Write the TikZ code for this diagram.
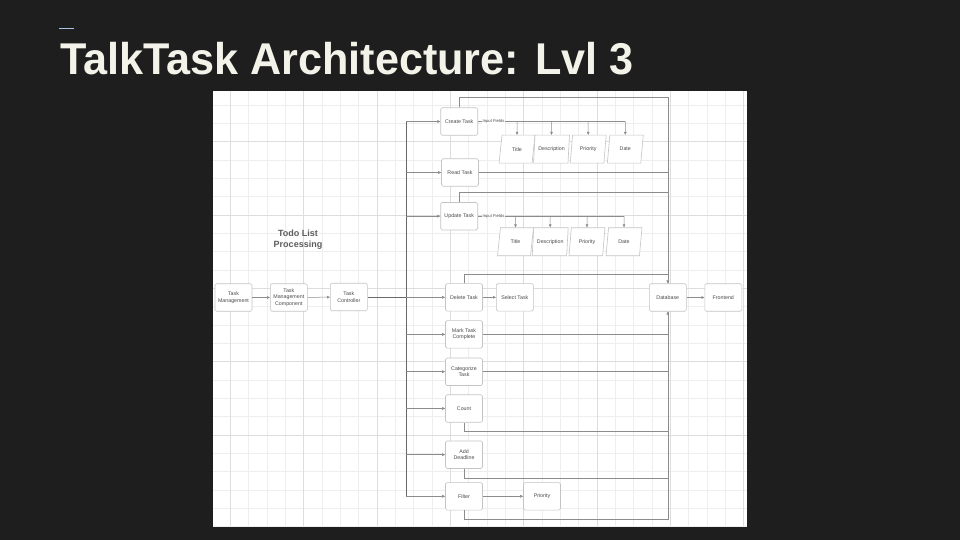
\documentclass[tikz,border=0pt]{standalone}
\usepackage{fontspec}
\setmainfont{Liberation Sans}
\usetikzlibrary{arrows.meta,shapes.geometric}
\definecolor{slidebg}{HTML}{1E1E1E}
\definecolor{titlecol}{HTML}{F3F3EA}
\definecolor{dashcol}{HTML}{A9C4E8}
\definecolor{boxline}{HTML}{C4C4C4}
\definecolor{boxtext}{HTML}{4A4A4A}
\definecolor{linecol}{HTML}{8C8C8C}
\definecolor{gridmin}{HTML}{EEEEEE}
\definecolor{gridmaj}{HTML}{DDDDDD}
\begin{document}
\begin{tikzpicture}[
                    x=1pt, y=-1pt,
                    box/.style={draw=boxline, fill=white, rounded corners=1.5pt, line width=0.6pt,
                                minimum width=37pt, minimum height=27.5pt, inner sep=0pt,
                                align=center, text=boxtext, font=\fontsize{5.3}{6.4}\selectfont},
                    param/.style={trapezium, trapezium left angle=76, trapezium right angle=104,
                                  trapezium stretches=true, draw=boxline, fill=white, line width=0.6pt,
                                  minimum width=36pt, minimum height=28pt, inner sep=0pt,
                                  text=boxtext, font=\fontsize{5.3}{6.4}\selectfont},
                    flow/.style={draw=linecol, line width=0.5pt, -{Triangle[length=3pt,width=2.6pt]}},
                    wire/.style={draw=linecol, line width=0.5pt},
                    bus/.style={draw=linecol!75!black, line width=0.8pt},
                    lbl/.style={fill=white, inner sep=0.3pt, text=boxtext, font=\fontsize{4.2}{5}\selectfont},
                    gridminor/.style={draw=gridmin, line width=0.6pt},
                    gridmajor/.style={draw=gridmaj, line width=0.6pt}
                ]
                \fill[slidebg] (0,0) rectangle (960,540);
                \useasboundingbox (0,0) rectangle (960,540);

                % title
                \draw[dashcol, line width=1pt] (59,29) -- (74,29);
                \node[anchor=base west, inner sep=0pt, text=titlecol, font=\fontsize{44.5}{50}\selectfont\bfseries]
                    (slidetitle) at (60,75) {\scalebox{0.97}[1]{TalkTask Architecture: Lvl 3}};

                % canvas with grid
                \begin{scope}
                    \clip (213,91) rectangle (747,526);
                    \fill[white] (213,91) rectangle (747,526);
                    \foreach \i in {0,...,29} \draw[gridminor] ({212+18.333*\i},91) -- ++(0,435);
                    \foreach \j in {0,...,24} \draw[gridminor] (213,{86.7+18.333*\j}) -- ++(534,0);
                    \foreach \i in {0,...,7} \draw[gridmajor] ({230.33+73.33*\i},91) -- ++(0,435);
                    \foreach \j in {0,...,5} \draw[gridmajor] (213,{68.4+73.33*\j}) -- ++(534,0);
                \end{scope}

                \node[align=center, text=boxtext!90, font=\fontsize{9}{10.5}\selectfont\bfseries]
                    (heading) at (298,239.5) {Todo List\\Processing};

                % main chain
                \node[box] (tm)  at (233.5,297.5) {Task\\Management};
                \node[box] (tmc) at (288.8,297.5) {Task\\Management\\Component};
                \node[box] (tc)  at (348.8,297) {Task\\Controller};

                % operations
                \node[box] (create)     at (459.2,121.5) {Create Task};
                \node[box] (read)       at (460,172.5)   {Read Task};
                \node[box] (update)     at (459.2,216.2) {Update Task};
                \node[box] (delete)     at (464,297.3)   {Delete Task};
                \node[box] (select)     at (514.8,297.3) {Select Task};
                \node[box] (mark)       at (464,334.4)   {Mark Task\\Complete};
                \node[box] (categorize) at (464,371.7)   {Categorize\\Task};
                \node[box] (count)      at (464,408.5)   {Count};
                \node[box] (deadline)   at (464,454.7)   {Add\\Deadline};
                \node[box] (filter)     at (464,496.3)   {Filter};
                \node[box] (priority)   at (542,496.3)   {Priority};
                \node[box] (db)         at (667.8,297.5) {Database};
                \node[box] (frontend)   at (723.3,297.5) {Frontend};

                % input fields
                \node[param] (title1) at (517,149.2)   {Title};
                \node[param] (desc1)  at (551.5,149.2) {Description};
                \node[param] (prio1)  at (588.2,149.2) {Priority};
                \node[param] (date1)  at (625.3,149.2) {Date};
                \node[param] (title2) at (515.5,241.7) {Title};
                \node[param] (desc2)  at (550.2,241.7) {Description};
                \node[param] (prio2)  at (587,241.7)   {Priority};
                \node[param] (date2)  at (624,241.7)   {Date};

                \coordinate (bus) at (406,300);

                \draw[flow] (tm) -- (tmc);
                \draw[flow] (tmc) -- (tc);
                \draw[bus] (tc.east) -- (bus |- tc);
                \draw[bus] (bus |- create) -- (bus |- filter);
                \foreach \t in {create,read,update,delete,mark,categorize,count,deadline,filter}
                    \draw[flow] (bus |- \t) -- (\t);

                \draw[wire] (create.east) -- (date1 |- create);
                \node[lbl] (in1) at (493.5,121.5) {Input Fields};
                \foreach \p in {title1,desc1,prio1,date1}
                    \draw[flow] (\p |- create) -- (\p.north);
                \draw[wire] (update.east) -- (date2 |- update);
                \node[lbl] (in2) at (493.5,216.2) {Input Fields};
                \foreach \p in {title2,desc2,prio2,date2}
                    \draw[flow] (\p |- update) -- (\p.north);

                \draw[flow] (delete) -- (select);
                \draw[flow] (filter) -- (priority);
                \draw[flow] (db) -- (frontend);

                % into the database, from above
                \draw[flow] (create.north) -- ++(0,-10.3) -| (db.north);
                \draw[wire] (read.east) -| (db.north);
                \draw[wire] (update.north) -- ++(0,-10) -| (db.north);
                \draw[wire] (delete.north) -- ++(0,-9.5) -| (db.north);

                % into the database, from below
                \draw[wire] (mark.east) -| (db.south);
                \draw[wire] (categorize.east) -| (db.south);
                \draw[wire] (count.south) -- ++(0,8.7) -| (db.south);
                \draw[wire] (deadline.south) -- ++(0,9.6) -| (db.south);
                \draw[flow] (filter.south) -- ++(0,9) -| (db.south);

            \end{tikzpicture}
\end{document}
